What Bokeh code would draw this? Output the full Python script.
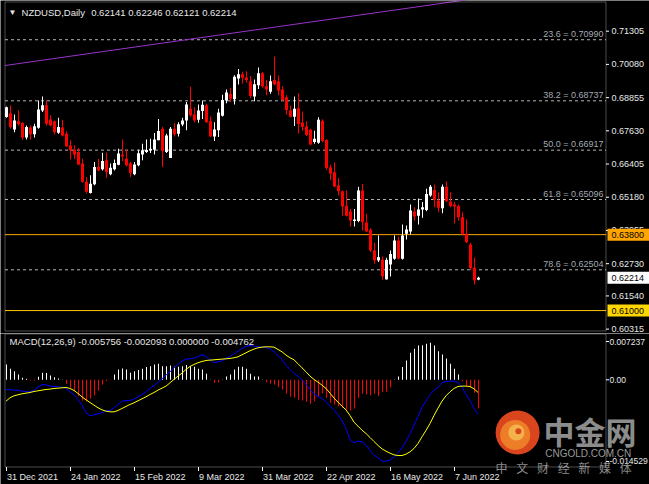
import pandas as pd
from bokeh.plotting import figure
from bokeh.layouts import column
from bokeh.models import (ColumnDataSource, Label, Range1d, BoxAnnotation)
from bokeh.core.properties import value
from bokeh.embed import file_html
from bokeh.resources import INLINE

# ---------------- data ----------------
symbol = "NZDUSD,Daily"
opens = [0.6814, 0.6828, 0.6768, 0.6798, 0.6792, 0.6738, 0.6775, 0.6750, 0.6774, 0.6838,
         0.6857, 0.6805, 0.6798, 0.6756, 0.6775, 0.6752, 0.6709, 0.6693, 0.6685, 0.6642,
         0.6575, 0.6534, 0.6566, 0.6630, 0.6621, 0.6654, 0.6603, 0.6621, 0.6638, 0.6675,
         0.6660, 0.6643, 0.6603, 0.6636, 0.6676, 0.6685, 0.6691, 0.6693, 0.6728, 0.6771,
         0.6685, 0.6663, 0.6771, 0.6752, 0.6786, 0.6801, 0.6844, 0.6823, 0.6804, 0.6836,
         0.6857, 0.6798, 0.6742, 0.6765, 0.6819, 0.6875, 0.6899, 0.6879, 0.6956, 0.6972,
         0.6960, 0.6946, 0.6890, 0.6931, 0.6975, 0.6927, 0.6907, 0.6950, 0.6946, 0.6915,
         0.6887, 0.6838, 0.6815, 0.6846, 0.6794, 0.6779, 0.6767, 0.6722, 0.6719, 0.6800,
         0.6729, 0.6628, 0.6610, 0.6561, 0.6540, 0.6487, 0.6465, 0.6430, 0.6430, 0.6543,
         0.6425, 0.6398, 0.6322, 0.6285, 0.6288, 0.6215, 0.6270, 0.6291, 0.6358, 0.6291,
         0.6383, 0.6392, 0.6465, 0.6450, 0.6473, 0.6471, 0.6524, 0.6545, 0.6506, 0.6477,
         0.6557, 0.6502, 0.6491, 0.6486, 0.6444, 0.6383, 0.6344, 0.6258, 0.62141]
highs = [0.6853, 0.6857, 0.6823, 0.6838, 0.6795, 0.6783, 0.6783, 0.6789, 0.6875, 0.6890,
         0.6875, 0.6820, 0.6801, 0.6811, 0.6804, 0.6761, 0.6728, 0.6709, 0.6701, 0.6660,
         0.6593, 0.6599, 0.6648, 0.6660, 0.6682, 0.6682, 0.6642, 0.6657, 0.6697, 0.6731,
         0.6693, 0.6648, 0.6648, 0.6693, 0.6715, 0.6731, 0.6734, 0.6755, 0.6807, 0.6777,
         0.6752, 0.6777, 0.6792, 0.6795, 0.6811, 0.6869, 0.6926, 0.6850, 0.6860, 0.6875,
         0.6863, 0.6816, 0.6795, 0.6844, 0.6896, 0.6915, 0.6922, 0.6968, 0.6991, 0.6981,
         0.6983, 0.6965, 0.6952, 0.6997, 0.6980, 0.6950, 0.6967, 0.7037, 0.6968, 0.6927,
         0.6894, 0.6856, 0.6890, 0.6902, 0.6834, 0.6798, 0.6771, 0.6763, 0.6813, 0.6806,
         0.6732, 0.6638, 0.6646, 0.6589, 0.6543, 0.6543, 0.6475, 0.6475, 0.6557, 0.6567,
         0.6457, 0.6404, 0.6350, 0.6377, 0.6299, 0.6295, 0.6322, 0.6377, 0.6373, 0.6417,
         0.6414, 0.6491, 0.6481, 0.6513, 0.6500, 0.6549, 0.6563, 0.6565, 0.6536, 0.6565,
         0.6576, 0.6536, 0.6500, 0.6491, 0.6463, 0.6436, 0.6350, 0.6296, 0.62246]
lows = [0.6811, 0.6771, 0.6758, 0.6783, 0.6730, 0.6731, 0.6731, 0.6738, 0.6771, 0.6832,
        0.6783, 0.6780, 0.6750, 0.6752, 0.6742, 0.6703, 0.6658, 0.6659, 0.6636, 0.6571,
        0.6532, 0.6532, 0.6562, 0.6615, 0.6617, 0.6590, 0.6599, 0.6617, 0.6636, 0.6652,
        0.6632, 0.6593, 0.6599, 0.6632, 0.6654, 0.6681, 0.6681, 0.6676, 0.6728, 0.6630,
        0.6681, 0.6663, 0.6742, 0.6742, 0.6780, 0.6765, 0.6816, 0.6795, 0.6793, 0.6807,
        0.6793, 0.6740, 0.6725, 0.6740, 0.6816, 0.6865, 0.6869, 0.6860, 0.6934, 0.6937,
        0.6940, 0.6884, 0.6872, 0.6917, 0.6922, 0.6894, 0.6900, 0.6931, 0.6894, 0.6875,
        0.6823, 0.6813, 0.6781, 0.6753, 0.6763, 0.6744, 0.6710, 0.6715, 0.6715, 0.6722,
        0.6619, 0.6582, 0.6555, 0.6524, 0.6450, 0.6447, 0.6410, 0.6410, 0.6426, 0.6395,
        0.6389, 0.6316, 0.6273, 0.6279, 0.6214, 0.6215, 0.6226, 0.6287, 0.6288, 0.6288,
        0.6362, 0.6381, 0.6432, 0.6417, 0.6442, 0.6466, 0.6520, 0.6481, 0.6463, 0.6459,
        0.6500, 0.6481, 0.6422, 0.6432, 0.6377, 0.6349, 0.6250, 0.6196, 0.62121]
closes = [0.6850, 0.6777, 0.6801, 0.6788, 0.6738, 0.6777, 0.6750, 0.6780, 0.6842, 0.6857,
          0.6789, 0.6783, 0.6758, 0.6777, 0.6746, 0.6706, 0.6691, 0.6676, 0.6639, 0.6575,
          0.6538, 0.6568, 0.6630, 0.6617, 0.6652, 0.6611, 0.6627, 0.6644, 0.6679, 0.6669,
          0.6636, 0.6608, 0.6639, 0.6680, 0.6691, 0.6692, 0.6697, 0.6731, 0.6762, 0.6689,
          0.6746, 0.6771, 0.6750, 0.6787, 0.6801, 0.6860, 0.6820, 0.6801, 0.6838, 0.6859,
          0.6795, 0.6742, 0.6768, 0.6831, 0.6877, 0.6904, 0.6881, 0.6962, 0.6972, 0.6959,
          0.6950, 0.6891, 0.6935, 0.6975, 0.6927, 0.6915, 0.6946, 0.6935, 0.6912, 0.6877,
          0.6840, 0.6815, 0.6844, 0.6788, 0.6778, 0.6748, 0.6713, 0.6734, 0.6804, 0.6725,
          0.6626, 0.6606, 0.6558, 0.6540, 0.6484, 0.6450, 0.6432, 0.6436, 0.6543, 0.6426,
          0.6392, 0.6322, 0.6285, 0.6297, 0.6226, 0.6287, 0.6309, 0.6358, 0.6292, 0.6377,
          0.6399, 0.6469, 0.6447, 0.6473, 0.6481, 0.6530, 0.6557, 0.6509, 0.6479, 0.6557,
          0.6503, 0.6486, 0.6484, 0.6444, 0.6383, 0.6352, 0.6257, 0.6211, 0.62214]

macd_hist = [0.00255, 0.00183, 0.00144, 0.00089, 0.00033, 0.00017, -0.00011, -0.00011, 0.00050, 0.00116,
             0.00111, 0.00072, 0.00044, 0.00022, 0.00003, -0.00066, -0.00133, -0.00188, -0.00271, -0.00343,
             -0.00355, -0.00316, -0.00260, -0.00177, -0.00078, -0.00022, -0.00003, 0.00089, 0.00172, 0.00188,
             0.00172, 0.00116, 0.00144, 0.00161, 0.00183, 0.00211, 0.00227, 0.00255, 0.00266, 0.00227,
             0.00227, 0.00238, 0.00216, 0.00216, 0.00227, 0.00244, 0.00227, 0.00216, 0.00183, 0.00172,
             0.00100, 0.00003, -0.00055, -0.00044, 0.00003, 0.00055, 0.00089, 0.00172, 0.00216, 0.00216,
             0.00183, 0.00100, 0.00055, 0.00055, 0.00003, -0.00039, -0.00066, -0.00078, -0.00122, -0.00161,
             -0.00227, -0.00283, -0.00299, -0.00332, -0.00343, -0.00366, -0.00399, -0.00355, -0.00277, -0.00222,
             -0.00299, -0.00382, -0.00410, -0.00438, -0.00465, -0.00493, -0.00510, -0.00476, -0.00299, -0.00233,
             -0.00244, -0.00255, -0.00233, -0.00271, -0.00199, -0.00199, -0.00122, 0.00003, 0.00055, 0.00211,
             0.00321, 0.00449, 0.00515, 0.00571, 0.00576, 0.00598, 0.00615, 0.00571, 0.00476, 0.00421,
             0.00355, 0.00266, 0.00183, 0.00089, -0.00022, -0.00105, -0.00133, -0.00216, -0.004762]
macd_main = [-0.00161, -0.00166, -0.00172, -0.00172, -0.00188, -0.00199, -0.00199, -0.00177, -0.00122, -0.00078,
             -0.00083, -0.00105, -0.00111, -0.00116, -0.00122, -0.00144, -0.00199, -0.00255, -0.00327, -0.00421,
             -0.00548, -0.00598, -0.00582, -0.00565, -0.00548, -0.00515, -0.00510, -0.00465, -0.00410, -0.00355,
             -0.00343, -0.00343, -0.00321, -0.00283, -0.00244, -0.00199, -0.00144, -0.00094, -0.00039, 0.00017,
             0.00078, 0.00133, 0.00199, 0.00255, 0.00310, 0.00343, 0.00349, 0.00360, 0.00388, 0.00416,
             0.00388, 0.00332, 0.00283, 0.00299, 0.00316, 0.00355, 0.00388, 0.00432, 0.00476, 0.00521,
             0.00554, 0.00571, 0.00560, 0.00548, 0.00543, 0.00537, 0.00515, 0.00465, 0.00399, 0.00338,
             0.00244, 0.00172, 0.00105, 0.00061, -0.00006, -0.00078, -0.00161, -0.00233, -0.00277, -0.00310,
             -0.00366, -0.00438, -0.00499, -0.00582, -0.00676, -0.00814, -0.00997, -0.01047, -0.01019, -0.01030,
             -0.01086, -0.01169, -0.01252, -0.01296, -0.01352, -0.01352, -0.01335, -0.01280, -0.01213, -0.01130,
             -0.01019, -0.00897, -0.00753, -0.00609, -0.00454, -0.00355, -0.00249, -0.00172, -0.00127, -0.00050,
             -0.00028, -0.00022, -0.00022, -0.00044, -0.00122, -0.00244, -0.00349, -0.00476, -0.005756]
macd_signal = [-0.00355, -0.00299, -0.00266, -0.00249, -0.00233, -0.00222, -0.00211, -0.00194, -0.00183, -0.00172,
               -0.00161, -0.00155, -0.00144, -0.00139, -0.00133, -0.00127, -0.00144, -0.00177, -0.00227, -0.00283,
               -0.00332, -0.00377, -0.00421, -0.00465, -0.00499, -0.00521, -0.00532, -0.00532, -0.00510, -0.00476,
               -0.00443, -0.00410, -0.00382, -0.00349, -0.00316, -0.00283, -0.00244, -0.00211, -0.00172, -0.00139,
               -0.00105, -0.00050, 0.00006, 0.00061, 0.00111, 0.00172, 0.00222, 0.00255, 0.00283, 0.00305,
               0.00321, 0.00327, 0.00332, 0.00338, 0.00343, 0.00349, 0.00355, 0.00366, 0.00382, 0.00416,
               0.00449, 0.00482, 0.00510, 0.00532, 0.00543, 0.00548, 0.00548, 0.00543, 0.00504, 0.00465,
               0.00410, 0.00366, 0.00332, 0.00266, 0.00199, 0.00133, 0.00061, 0.00006, -0.00039, -0.00089,
               -0.00144, -0.00222, -0.00305, -0.00371, -0.00438, -0.00499, -0.00593, -0.00704, -0.00770, -0.00837,
               -0.00892, -0.00958, -0.01025, -0.01091, -0.01147, -0.01186, -0.01219, -0.01247, -0.01258, -0.01258,
               -0.01235, -0.01197, -0.01141, -0.01058, -0.00947, -0.00842, -0.00726, -0.00593, -0.00471, -0.00355,
               -0.00266, -0.00199, -0.00144, -0.00111, -0.00105, -0.00105, -0.00111, -0.00150, -0.002093]

fib_names = ["23.6", "38.2", "50.0", "61.8", "78.6"]
fib_levels = [0.70990, 0.68737, 0.66917, 0.65096, 0.62504]
level_orange = 0.63800
level_yellow = 0.61000
trend_start = 0.70044      # trend line value at first bar
trend_slope = 0.00021      # per bar
price_ticks = [0.71305, 0.70080, 0.68855, 0.67630, 0.66405, 0.65180, 0.63955, 0.62730, 0.61540, 0.60315]
macd_tick_labels = ["0.007237", "0.00", "-0.014529"]
macd_tick_pos = [0.00636, 0.0, -0.01357]   # where the platform prints those labels
macd_header = "MACD(12,26,9) -0.005756 -0.002093 0.000000 -0.004762"
date_tick_idx = [0, 16, 32, 48, 64, 80, 96, 112]

n = len(closes)
dates = pd.bdate_range("2021-12-31", periods=n)
date_labels = [f"{dates[i].day} {dates[i].strftime('%b %Y')}" for i in date_tick_idx]

# ---------------- geometry / style ----------------
FONT = "Liberation Sans"
CJK = "Noto Sans CJK SC"
BG = "#000000"
FRAME = "#FFFFFF"
BULL = "#FFFFFF"
BEAR = "#FF0000"
TXT = "#E8E8E8"

PX = 0.25                      # one screen pixel in bar units (4 px per bar)
pane_left, pane_right = -0.25, 150.0
box_center_x, box_width = 155.625, 10.5
xr = Range1d(-1.375, 160.875)
xr_bars = Range1d(-1.5, 160.75)    # same scale, shifted half a pixel so 1px bars sit on the pixel grid

main_range = (0.60154, 0.72437)
main_pane = (0.60247, 0.72382)          # bottom / top edge of the price pane
macd_range = (-0.017395, 0.007692)
macd_pane = (-0.014487, 0.007609)
date_text_y = -0.01615


def make_fig(height, yr):
    f = figure(width=649, height=height, x_range=xr, y_range=Range1d(*yr),
               output_backend="svg", toolbar_location=None,
               x_axis_location=None, y_axis_location=None,
               min_border_left=0, min_border_right=0, min_border_top=0, min_border_bottom=0,
               background_fill_color=BG, border_fill_color=BG, outline_line_color=None)
    f.grid.visible = False
    f.extra_x_ranges = {"bars": xr_bars}
    return f


def add_scale(f, ticks, labels, pane, text_x, size):
    f.add_layout(BoxAnnotation(left=pane_left, right=pane_right, bottom=pane[0], top=pane[1],
                               fill_color=None, line_color=FRAME, line_width=1, level="overlay"))
    s = ColumnDataSource(dict(y=ticks, text=labels,
                              x0=[pane_right] * len(ticks), x1=[pane_right + 3 * PX] * len(ticks),
                              xt=[text_x] * len(ticks)))
    f.segment(x0="x0", y0="y", x1="x1", y1="y", line_color=FRAME, line_width=1, source=s)
    f.text(x="xt", y="y", text="text", source=s, text_align="left", text_baseline="middle",
           text_color=TXT, text_font=value(FONT), text_font_size=value(size))


# ---------------- main price pane ----------------
p = make_fig(333, main_range)

fsrc = ColumnDataSource(dict(y=fib_levels, text=[f"{a} = {b:.5f}" for a, b in zip(fib_names, fib_levels)],
                             x0=[pane_left] * 5, x1=[pane_right] * 5, xt=[pane_right - 2.5 * PX] * 5))
p.segment(x0="x0", y0="y", x1="x1", y1="y", line_color="#B4B4B4", line_dash="3 3",
          line_width=1, source=fsrc)
p.text(x="xt", y="y", text="text", source=fsrc, text_align="right", text_baseline="bottom",
       y_offset=-1, text_color="#A3AAB4", text_font=value(FONT), text_font_size=value("9px"))

lsrc = ColumnDataSource(dict(y=[level_orange, level_yellow], col=["#FFA500", "#FFC800"],
                             x0=[pane_left] * 2, x1=[pane_right] * 2))
p.segment(x0="x0", y0="y", x1="x1", y1="y", line_color="col", line_width=1, source=lsrc)

tx = [pane_left, pane_right]
p.line(tx, [trend_start + trend_slope * x for x in tx], line_color="#9932CC", line_width=1)

src = ColumnDataSource(dict(
    x=list(range(n)), o=opens, h=highs, l=lows, c=closes,
    top=[max(a, b) for a, b in zip(opens, closes)],
    bot=[min(a, b) for a, b in zip(opens, closes)],
    col=[BULL if c >= o else BEAR for o, c in zip(opens, closes)]))
p.vbar(x="x", width=PX, top="h", bottom="l", fill_color="col", line_color=None,
       source=src, x_range_name="bars")
p.vbar(x="x", width=0.75, top="top", bottom="bot", fill_color="col", line_color=None,
       source=src, x_range_name="bars")

add_scale(p, price_ticks, [f"{t:.5f}" for t in price_ticks], main_pane, 151.375, "9px")

# price boxes on the scale
bsrc = ColumnDataSource(dict(y=[level_orange, closes[-1], level_yellow],
                             text=[f"{v:.5f}" for v in (level_orange, closes[-1], level_yellow)],
                             fill=["#FFA500", "#FFFFFF", "#FFD700"],
                             xc=[box_center_x] * 3, xt=[151.375] * 3))
p.rect(x="xc", y="y", width=box_width, height=12, height_units="screen", fill_color="fill",
       line_color=None, source=bsrc)
p.text(x="xt", y="y", text="text", source=bsrc, text_align="left", text_baseline="middle",
       text_color="#000000", text_font=value(FONT), text_font_size=value("9px"))

# header
p.add_layout(Label(x=1.6, y=0.71995, text="\u25BC", text_align="center", text_baseline="middle",
                   text_color=TXT, text_font=FONT, text_font_size="8px"))
p.add_layout(Label(x=3.9, y=0.71995, text=symbol, text_baseline="middle",
                   text_color=TXT, text_font=FONT, text_font_size="9.5px"))
p.add_layout(Label(x=21.3, y=0.71995, text=f"{opens[-1]:.5f} {highs[-1]:.5f} {lows[-1]:.5f} {closes[-1]:.5f}",
                   text_baseline="middle", text_color=TXT, text_font=FONT, text_font_size="9.5px"))

# ---------------- MACD pane ----------------
pm = make_fig(151, macd_range)

msrc = ColumnDataSource(dict(
    x=list(range(n)), hist=macd_hist, main=macd_main, sig=macd_signal, zero=[0.0] * n,
    hc=[BULL if v >= 0 else BEAR for v in macd_hist]))
pm.vbar(x="x", width=PX, top="hist", bottom="zero", fill_color="hc", line_color=None,
        source=msrc, x_range_name="bars")
pm.line("x", "main", line_color="#0000FF", line_width=1, source=msrc)
pm.line("x", "sig", line_color="#FFFF00", line_width=1, source=msrc)

# watermark (中金网)
wm_x, wm_y = 127.9, -0.00876
pm.scatter([wm_x], [wm_y], size=44, marker="circle", fill_color="#D9451C", line_color=None)
pm.scatter([wm_x - 0.6], [wm_y - 0.0004], size=30, marker="circle", fill_color="#EE7D2A", line_color=None)
pm.scatter([wm_x - 0.3], [wm_y], size=16, marker="circle", fill_color="#F6B24A", line_color=None)
pm.scatter([wm_x + 0.2], [wm_y + 0.0002], size=6, marker="circle", fill_color="#D9451C", line_color=None)

add_scale(pm, macd_tick_pos, macd_tick_labels, macd_pane, 150.875, "8.5px")

pm.add_layout(Label(x=0.9, y=0.00631, text=macd_header, text_baseline="middle",
                    text_color=TXT, text_font=FONT, text_font_size="9.5px"))

# date ticks and labels under the lower pane
tick_len = 4 / 6019.0
dsrc = ColumnDataSource(dict(x=date_tick_idx, text=date_labels,
                             bl=[macd_pane[0] - tick_len] * len(date_tick_idx),
                             tp=[macd_pane[0]] * len(date_tick_idx),
                             yt=[date_text_y] * len(date_tick_idx)))
pm.vbar(x="x", width=PX, top="tp", bottom="bl", fill_color=FRAME, line_color=None,
        source=dsrc, x_range_name="bars")
pm.text(x="x", y="yt", text="text", source=dsrc, text_align="left", text_baseline="middle",
        x_offset=1, text_color=TXT, text_font=value(FONT), text_font_size=value("9px"))

pm.add_layout(Label(x=134.4, y=-0.00850, text="中金网", text_baseline="middle",
                    text_color="#8C8C8C", text_font=CJK, text_font_style="bold",
                    text_font_size="31px"))
pm.add_layout(Label(x=134.8, y=-0.01219, text="CNGOLD.COM.CN", text_baseline="middle",
                    text_color="#9A9A9A", text_font=FONT, text_font_size="10px"))
pm.add_layout(Label(x=122.4, y=-0.01449, text="中 \u2002文 \u2002财 \u2002经 \u2002新 \u2002媒 \u2002体",
                    text_baseline="middle", text_color="#8A8A8A", text_font=CJK,
                    text_font_size="12px"))

layout = column(p, pm, spacing=0)
open("out.html", "w").write(file_html(layout, INLINE))
